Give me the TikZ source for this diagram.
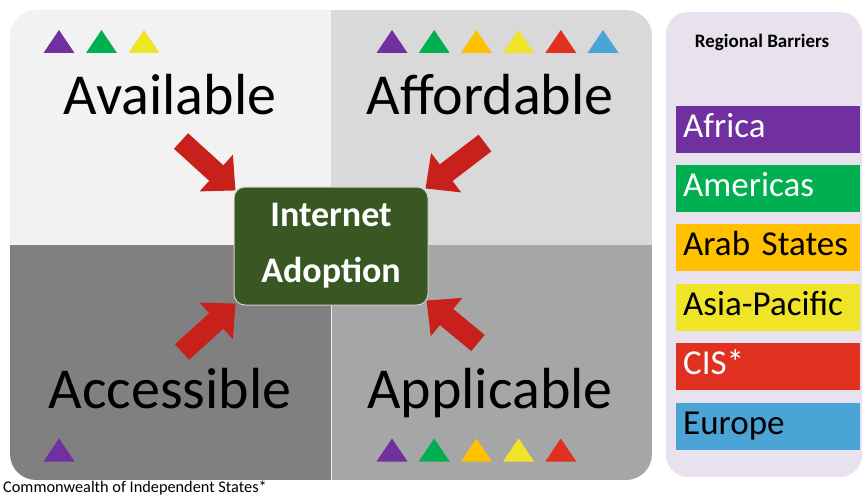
\documentclass[tikz,border=0pt]{standalone}
\usepackage{fontspec}
\setmainfont{Carlito}
\usetikzlibrary{arrows.meta,positioning}

\definecolor{quadTL}{RGB}{242,242,242}
\definecolor{quadTR}{RGB}{217,217,217}
\definecolor{quadBL}{RGB}{128,128,128}
\definecolor{quadBR}{RGB}{166,166,166}
\definecolor{adoptgreen}{RGB}{56,87,35}
\definecolor{pushred}{RGB}{200,32,26}
\definecolor{panelbg}{RGB}{231,226,238}
\definecolor{regAfrica}{RGB}{112,48,160}
\definecolor{regAmericas}{RGB}{0,176,80}
\definecolor{regArab}{RGB}{255,192,0}
\definecolor{regAsia}{RGB}{240,228,40}
\definecolor{regCIS}{RGB}{224,48,32}
\definecolor{regEurope}{RGB}{75,164,214}

\begin{document}
\begin{tikzpicture}[x=1pt,y=-1pt,
    quadlabel/.style={anchor=base,inner sep=0pt,font=\fontsize{58}{58}\selectfont},
    push/.style={draw=pushred,line width=21pt,-{Triangle[width=48pt,length=26pt]}},
    bar/.style={anchor=west,inner xsep=7pt,inner ysep=0pt,minimum height=47pt,
      text width=170pt,align=left,text height=24pt,text depth=8pt,
      font=\fontsize{35}{35}\selectfont},
    regtri/.pic={\fill (-15.5,11.5) -- (0,-11.5) -- (15.5,11.5) -- cycle;}]
  \useasboundingbox (0,0) rectangle (862,495);

  % four quadrants in one rounded block
  \begin{scope}
    \clip[rounded corners=26pt] (10,10) rectangle (652,480);
    \fill[quadTL] (10,10) rectangle (331,245);
    \fill[quadTR] (331,10) rectangle (652,245);
    \fill[quadBL] (10,245) rectangle (331,480);
    \fill[quadBR] (331,245) rectangle (652,480);
    \draw[white!85!gray,line width=1pt] (331,245) -- (331,480);
  \end{scope}

  \node[quadlabel] (avail) at (170,114) {Available};
  \node[quadlabel] (afford) at (490,114) {Affordable};
  \node[quadlabel] (access) at (170,408) {Accessible};
  \node[quadlabel] (appl) at (490,408) {Applicable};

  % barrier marks per quadrant
  \foreach \c [count=\i from 0] in {regAfrica,regAmericas,regAsia}
    \pic[\c] at (59+42.5*\i,41.5) {regtri};
  \foreach \c [count=\i from 0] in {regAfrica,regAmericas,regArab,regAsia,regCIS,regEurope}
    \pic[\c] at (392+42.2*\i,41.5) {regtri};
  \pic[regAfrica] at (59,450) {regtri};
  \foreach \c [count=\i from 0] in {regAfrica,regAmericas,regArab,regAsia,regCIS}
    \pic[\c] at (392+42.2*\i,450) {regtri};

  \node[draw=white!75!adoptgreen,line width=1pt,fill=adoptgreen,rounded corners=11pt,
    minimum width=194pt,minimum height=118pt,text=white,align=center,
    font=\bfseries\fontsize{36}{56}\selectfont] (adopt) at (331,246) {Internet\\Adoption};

  \coordinate (fromTL) at (181,141);
  \coordinate (fromTR) at (485,143);
  \coordinate (fromBL) at (182,352);
  \coordinate (fromBR) at (478,343);
  \draw[push] (fromTL) -- ([shift={(2,4)}]adopt.north west);
  \draw[push] (fromTR) -- ([shift={(-3,2)}]adopt.north east);
  \draw[push] (fromBL) -- ([shift={(2,-2)}]adopt.south west);
  \draw[push] (fromBR) -- ([shift={(-2,-5)}]adopt.south east);

  % legend panel
  \fill[panelbg,rounded corners=22pt] (666,12) rectangle (862,477);
  \node[font=\bfseries\fontsize{19}{19}\selectfont] (legtitle) at (762,42) {Regional Barriers};
  \node[bar,fill=regAfrica,text=white] (africa) at (676,129) {Africa};
  \node[bar,fill=regAmericas,text=white,below=12pt of africa] (americas) {Americas};
  \node[bar,fill=regArab,below=12pt of americas] (arab) {Arab States};
  \node[bar,fill=regAsia,below=12pt of arab] (asia) {Asia-Pacific};
  \node[bar,fill=regCIS,text=white,below=12pt of asia] (cis) {CIS*};
  \node[bar,fill=regEurope,below=12pt of cis] (europe) {Europe};

  \node[anchor=base west,inner sep=0pt,font=\fontsize{16.3}{16.3}\selectfont] (note) at (3,492)
    {Commonwealth of Independent States*};
\end{tikzpicture}
\end{document}
